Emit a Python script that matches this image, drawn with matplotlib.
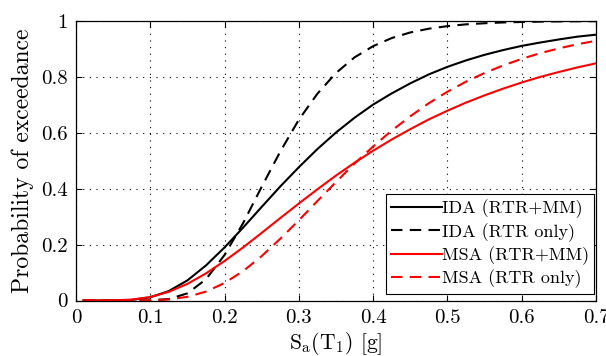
"""
Fragility curves: IDA vs MSA, probability of exceedance vs Sa(T1)
"""

import matplotlib
matplotlib.use('Agg')
import matplotlib.pyplot as plt
import numpy as np

#---------------------------------------------------------------------------------------------------
# Data
#---------------------------------------------------------------------------------------------------

sa = [0.01, 0.025, 0.05, 0.075, 0.1, 0.125, 0.15, 0.175, 0.2, 0.225, 0.25, 0.275, 0.3, 0.325,
      0.35, 0.375, 0.4, 0.425, 0.45, 0.475, 0.5, 0.525, 0.55, 0.575, 0.6, 0.625, 0.65, 0.675, 0.7]

ida_rtr_mm = [0.0, 0.0, 0.0001, 0.0021, 0.0113, 0.0338, 0.072, 0.1255, 0.190, 0.261, 0.335, 0.408,
              0.477, 0.542, 0.601, 0.654, 0.701, 0.741, 0.777, 0.809, 0.836, 0.859, 0.879, 0.896,
              0.911, 0.923, 0.934, 0.944, 0.951]
ida_rtr = [0.0, 0.0, 0.0, 0.0, 0.0005, 0.0052, 0.0256, 0.0759, 0.163, 0.277, 0.407, 0.533, 0.647,
           0.740, 0.814, 0.870, 0.910, 0.939, 0.959, 0.9725, 0.9817, 0.988, 0.992, 0.9948, 0.9965,
           0.9977, 0.9985, 0.999, 0.9994]
msa_rtr_mm = [0.0, 0.0, 0.0003, 0.0032, 0.0125, 0.0312, 0.0596, 0.097, 0.1414, 0.190, 0.242, 0.295,
              0.347, 0.398, 0.447, 0.493, 0.536, 0.576, 0.613, 0.648, 0.679, 0.708, 0.734, 0.758,
              0.780, 0.800, 0.8175, 0.834, 0.8485]
msa_rtr = [0.0, 0.0, 0.0, 0.0001, 0.0007, 0.0039, 0.0131, 0.0319, 0.0627, 0.1053, 0.159, 0.221,
           0.287, 0.356, 0.424, 0.490, 0.551, 0.608, 0.659, 0.706, 0.747, 0.783, 0.814, 0.841,
           0.8645, 0.885, 0.902, 0.917, 0.929]

xticks = [0, 0.1, 0.2, 0.3, 0.4, 0.5, 0.6, 0.7]
xticklabels = ['0', '0.1', '0.2', '0.3', '0.4', '0.5', '0.6', '0.7']
yticks = [0, 0.2, 0.4, 0.6, 0.8, 1]
yticklabels = ['0', '0.2', '0.4', '0.6', '0.8', '1']

#---------------------------------------------------------------------------------------------------
# Plot
#---------------------------------------------------------------------------------------------------

plt.rcParams['font.family'] = 'serif'
plt.rcParams['font.serif'] = ['cmr10']
plt.rcParams['mathtext.fontset'] = 'cm'
plt.rcParams['axes.formatter.use_mathtext'] = True

fig = plt.figure(figsize=(6.06, 3.56), dpi=100)
ax = fig.add_axes([76 / 606, 1 - 300.5 / 356, 520 / 606, 279.5 / 356])

dash = (5.5, 3.5)
ax.plot(sa, ida_rtr_mm, color='k', lw=1.5, label='IDA (RTR+MM)')
ax.plot(sa, ida_rtr, color='k', lw=1.5, ls=(0, dash), label='IDA (RTR only)')
ax.plot(sa, msa_rtr_mm, color='r', lw=1.5, label='MSA (RTR+MM)')
ax.plot(sa, msa_rtr, color='r', lw=1.5, ls=(0, dash), label='MSA (RTR only)')

ax.set_xlim(0, 0.7)
ax.set_ylim(0, 1)
ax.set_xticks(xticks)
ax.set_xticklabels(xticklabels)
ax.set_yticks(yticks)
ax.set_yticklabels(yticklabels)
ax.tick_params(direction='in', top=True, right=True, length=4, width=0.8, labelsize=15, pad=6)
ax.grid(True, color='k', ls=(0, (1, 5)), lw=0.8)
for s in ax.spines.values():
    s.set_linewidth(0.9)

ax.set_xlabel(r'$\mathrm{S_a(T_1)}$ [g]', size=15.5, labelpad=2)
ax.set_ylabel('Probability of exceedance', size=17, labelpad=5)

leg = ax.legend(loc='lower right', bbox_to_anchor=(0.997, 0.025), fontsize=13, handlelength=2.8,
                handletextpad=0.0, borderaxespad=0, labelspacing=0.25, borderpad=0.3,
                fancybox=False, framealpha=1)
leg.get_frame().set_edgecolor('k')
leg.get_frame().set_linewidth(0.8)

plt.savefig('out.png', dpi=100)
